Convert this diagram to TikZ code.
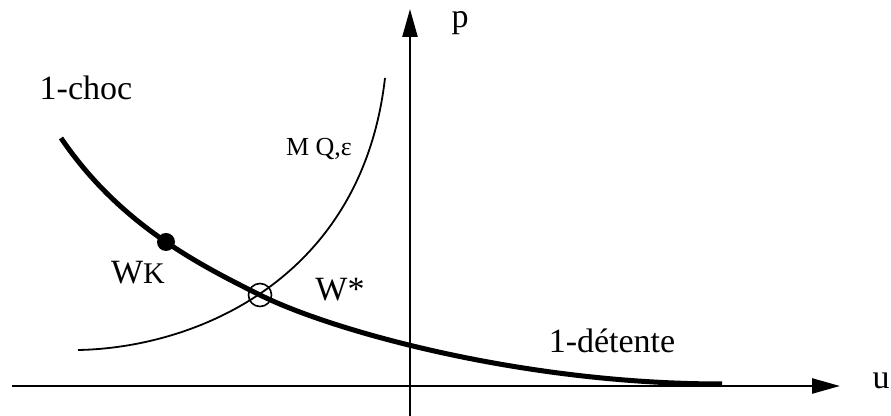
\documentclass[tikz,border=0pt]{standalone}
\usepackage{fontspec}
\setmainfont{Liberation Serif}
\usepackage{tikz}
\usetikzlibrary{arrows.meta,positioning}

\begin{document}
\begin{tikzpicture}[
    x=0.5pt, y=-0.5pt,
    axis/.style={line width=1.25pt, -{Triangle[length=14pt, width=7.5pt]}},
    wave/.style={line width=2.5pt},
    curve/.style={line width=0.9pt},
    label/.style={font=\fontsize{17}{20}\selectfont, inner sep=0pt},
    small/.style={font=\fontsize{13}{15}\selectfont, inner sep=0pt},
    state/.style={circle, fill=black, inner sep=0pt, minimum size=9pt},
    star/.style={circle, draw=black, line width=0.8pt, inner sep=0pt, minimum size=11.5pt}
]
    \useasboundingbox (0,0) rectangle (891,416);

    % Axes
    \coordinate (uleft) at (12, 386);
    \coordinate (uright) at (840, 386);
    \coordinate (pbot) at (410, 416);
    \coordinate (ptop) at (410, 9);
    \draw[axis] (uleft) -- (uright);
    \draw[axis] (pbot) -- (ptop);
    \node[label] (u) at (881, 381) {u};
    \node[label] (p) at (460, 23) {p};

    % Curves
    \coordinate (chocstart) at (61,138);
    \coordinate (meet) at (260,295);
    \coordinate (detend) at (722,384);
    \coordinate (mqstart) at (78,350);
    \coordinate (mqend) at (385,78);
    \draw[wave] (chocstart) .. controls (120,225) and (200,265) .. (meet)
        .. controls (330,330) and (520,384) .. (detend);
    \draw[curve] (mqstart) .. controls (195,348) and (362,280) .. (mqend);

    % States
    \node[state] (wk) at (166,242) {};
    \node[star] (wstar) at (meet) {};

    % Labels
    \node[label] (choc) at (86,88) {1-choc};
    \node[label] (detente) at (612,341) {1-détente};
    \node[small] (mq) at (319,149) {M Q,ε};
    \node[label] (wklabel) at (138,273) {W{\fontsize{15}{17}\selectfont K}};
    \node[label] (wslabel) at (340,290) {W*};

\end{tikzpicture}
\end{document}
